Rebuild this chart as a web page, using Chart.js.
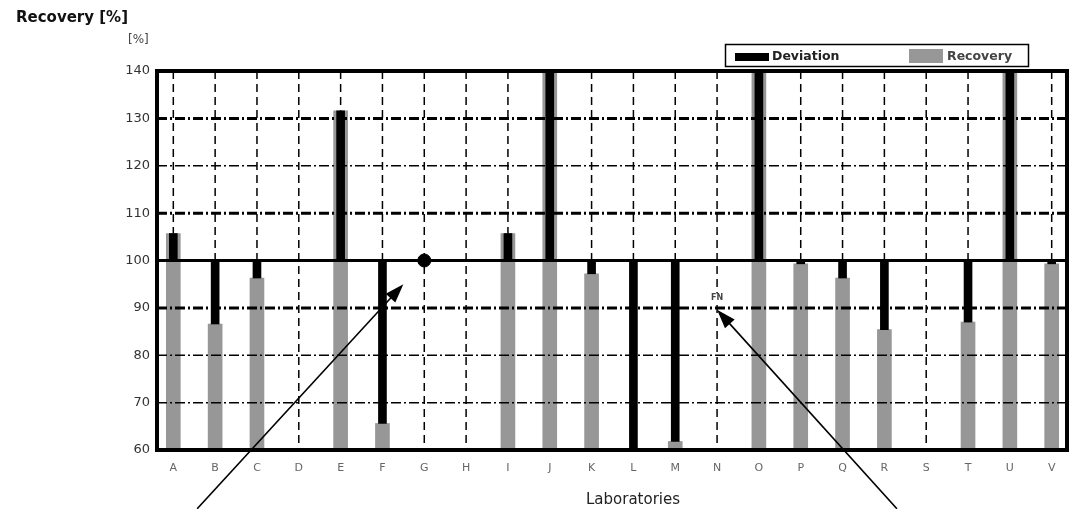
<!DOCTYPE html>
<html>
<head>
<meta charset="utf-8">
<script src="https://cdn.jsdelivr.net/npm/chart.js@4/dist/chart.umd.min.js"></script>
<style>
  html, body { margin: 0; padding: 0; background: #fff; }
  canvas { display: block; }
</style>
</head>
<body>
<canvas id="chart" width="1081" height="509"></canvas>
<script>
// Laboratories on the x axis
const labs = ['A','B','C','D','E','F','G','H','I','J','K','L','M','N','O','P','Q','R','S','T','U','V'];

// Recovery per laboratory in % (null = no result)
const recovery = [105.7, 86.6, 96.3, null, 131.6, 65.6, null, null, 105.7, 147, 97.2, 55, 61.8, null, 148, 99.3, 96.3, 85.4, null, 87.0, 146, 99.3];

// Deviation from the 100 % reference in percentage points
const deviation = [5.7, -13.4, -3.7, null, 31.6, -34.4, null, null, 5.7, 47, -2.8, -45, -38.2, null, 48, -0.7, -3.7, -14.6, null, -13.0, 46, -0.7];

// Single result reported exactly at 100 %
const onTarget = [null, null, null, null, null, null, 100, null, null, null, null, null, null, null, null, null, null, null, null, null, null, null];

// Text notes placed at a laboratory
const noteLabs = ['N'];
const noteValues = [92];
const noteTexts = ['FN'];

// Pointer arrows: tail and tip as [lab index, %]
const arrowTails = [[0.57, 47.6], [17.3, 47.6]];
const arrowTips = [[5.5, 95.0], [13.0, 89.6]];

// Value axis
const yMin = 60, yMax = 140, yStep = 10;
const referenceLine = 100;
const heavyGrid = [90, 110, 130];
const lightGrid = [70, 80, 120];

const FONT = "'DejaVu Sans', sans-serif";
const GREY = '#979797';

const recoveryData = [];
const deviationData = [];
const dotData = [];
labs.forEach((lab, i) => {
  if (recovery[i] !== null) recoveryData.push({ x: i, y: [yMin, recovery[i]] });
  if (deviation[i] !== null) deviationData.push({ x: i, y: [referenceLine, referenceLine + deviation[i]] });
  if (onTarget[i] !== null) dotData.push({ x: i, y: onTarget[i] });
});

function strokeSegment(ctx, x1, y1, x2, y2) {
  ctx.beginPath(); ctx.moveTo(x1, y1); ctx.lineTo(x2, y2); ctx.stroke();
}

const decor = {
  id: 'decor',
  beforeDatasetsDraw(chart) {
    const { ctx, chartArea: a, scales: { x } } = chart;
    ctx.save();
    ctx.strokeStyle = '#000';
    ctx.lineWidth = 1.5;
    ctx.setLineDash([8, 5]);
    labs.forEach((_, i) => {
      const px = x.getPixelForValue(i);
      strokeSegment(ctx, px, a.top, px, a.bottom);
    });
    ctx.restore();
  },
  afterDatasetsDraw(chart) {
    const { ctx, chartArea: a, scales: { x, y } } = chart;
    ctx.save();
    ctx.strokeStyle = '#000';
    ctx.setLineDash([10, 3, 2, 3]);
    ctx.lineWidth = 1.5;
    lightGrid.forEach(v => { const py = y.getPixelForValue(v); strokeSegment(ctx, a.left, py, a.right, py); });
    ctx.lineWidth = 3;
    heavyGrid.forEach(v => { const py = y.getPixelForValue(v); strokeSegment(ctx, a.left, py, a.right, py); });
    ctx.setLineDash([]);
    ctx.lineWidth = 3;
    const pr = y.getPixelForValue(referenceLine);
    strokeSegment(ctx, a.left, pr, a.right, pr);
    // plot frame
    ctx.lineWidth = 4;
    ctx.strokeRect(a.left, a.top, a.right - a.left, a.bottom - a.top);

    // notes
    ctx.font = 'bold 8px ' + FONT;
    ctx.textAlign = 'center';
    ctx.textBaseline = 'middle';
    noteLabs.forEach((lab, k) => {
      const px = x.getPixelForValue(labs.indexOf(lab));
      const py = y.getPixelForValue(noteValues[k]);
      const w = ctx.measureText(noteTexts[k]).width;
      ctx.fillStyle = '#fff';
      ctx.fillRect(px - w / 2 - 1, py - 5, w + 2, 10);
      ctx.fillStyle = '#444';
      ctx.fillText(noteTexts[k], px, py);
    });

    // arrows
    ctx.fillStyle = '#000';
    ctx.lineWidth = 1.6;
    arrowTips.forEach((tip, k) => {
      const tail = arrowTails[k];
      const x1 = x.getPixelForValue(tail[0]), y1 = y.getPixelForValue(tail[1]);
      const x2 = x.getPixelForValue(tip[0]), y2 = y.getPixelForValue(tip[1]);
      const ang = Math.atan2(y2 - y1, x2 - x1);
      const len = 19, half = 6.5;
      const bx = x2 - Math.cos(ang) * len, by = y2 - Math.sin(ang) * len;
      strokeSegment(ctx, x1, y1, bx + Math.cos(ang) * 2, by + Math.sin(ang) * 2);
      ctx.beginPath();
      ctx.moveTo(x2, y2);
      ctx.lineTo(bx - Math.sin(ang) * half, by + Math.cos(ang) * half);
      ctx.lineTo(bx + Math.sin(ang) * half, by - Math.cos(ang) * half);
      ctx.closePath();
      ctx.fill();
    });
    ctx.restore();
  },
  afterDraw(chart) {
    const { ctx } = chart;
    ctx.save();
    ctx.textBaseline = 'middle';
    ctx.textAlign = 'left';
    // heading
    ctx.fillStyle = '#111';
    ctx.font = 'bold 15px ' + FONT;
    ctx.fillText('Recovery [%]', 16, 18);
    // unit above the value axis
    ctx.fillStyle = '#444';
    ctx.font = '12px ' + FONT;
    ctx.fillText('[%]', 128, 40);
    // axis title
    ctx.fillStyle = '#222';
    ctx.font = '15px ' + FONT;
    ctx.textAlign = 'center';
    ctx.fillText('Laboratories', 633, 500);

    // legend
    ctx.textAlign = 'left';
    ctx.strokeStyle = '#000';
    ctx.lineWidth = 1.5;
    ctx.strokeRect(725.5, 44.5, 303, 22);
    ctx.fillStyle = '#000';
    ctx.fillRect(735, 53, 34, 8);
    ctx.fillStyle = '#222';
    ctx.font = 'bold 12.5px ' + FONT;
    ctx.fillText(chart.data.datasets[1].label, 772, 56.5);
    ctx.fillStyle = GREY;
    ctx.fillRect(909, 49, 34, 14);
    ctx.fillStyle = '#444';
    ctx.fillText(chart.data.datasets[2].label, 947, 56.5);
    ctx.restore();
  }
};

new Chart(document.getElementById('chart'), {
  type: 'bar',
  data: {
    datasets: [
      {
        type: 'scatter',
        label: 'On target',
        data: dotData,
        backgroundColor: '#000',
        borderColor: '#000',
        pointRadius: 6.5,
        pointHoverRadius: 6.5
      },
      {
        label: 'Deviation',
        data: deviationData,
        backgroundColor: '#000',
        barThickness: 8,
        grouped: false,
        borderWidth: 0
      },
      {
        label: 'Recovery',
        data: recoveryData,
        backgroundColor: GREY,
        barThickness: 14,
        grouped: false,
        borderWidth: 0
      }
    ]
  },
  options: {
    responsive: false,
    animation: false,
    devicePixelRatio: 1,
    layout: { padding: { top: 71, right: 14, bottom: 0, left: 0 } },
    plugins: {
      legend: { display: false },
      tooltip: { enabled: false },
      title: { display: false }
    },
    scales: {
      x: {
        type: 'linear',
        offset: false,
        min: -0.39,
        max: 21.366,
        grid: { display: false, drawTicks: false, offset: false },
        border: { display: false },
        afterBuildTicks: s => { s.ticks = labs.map((_, i) => ({ value: i })); },
        afterFit: s => { s.height = 59; },
        ticks: {
          autoSkip: false,
          maxRotation: 0,
          padding: 12,
          color: '#666',
          font: { family: FONT, size: 11 },
          callback: v => labs[v] ?? ''
        }
      },
      y: {
        type: 'linear',
        min: yMin,
        max: yMax,
        grid: { display: false, drawTicks: false },
        border: { display: false },
        afterFit: s => { s.width = 157; },
        ticks: {
          stepSize: yStep,
          padding: 7,
          color: '#333',
          font: { family: FONT, size: 13 }
        }
      }
    }
  },
  plugins: [decor]
});
</script>
</body>
</html>
